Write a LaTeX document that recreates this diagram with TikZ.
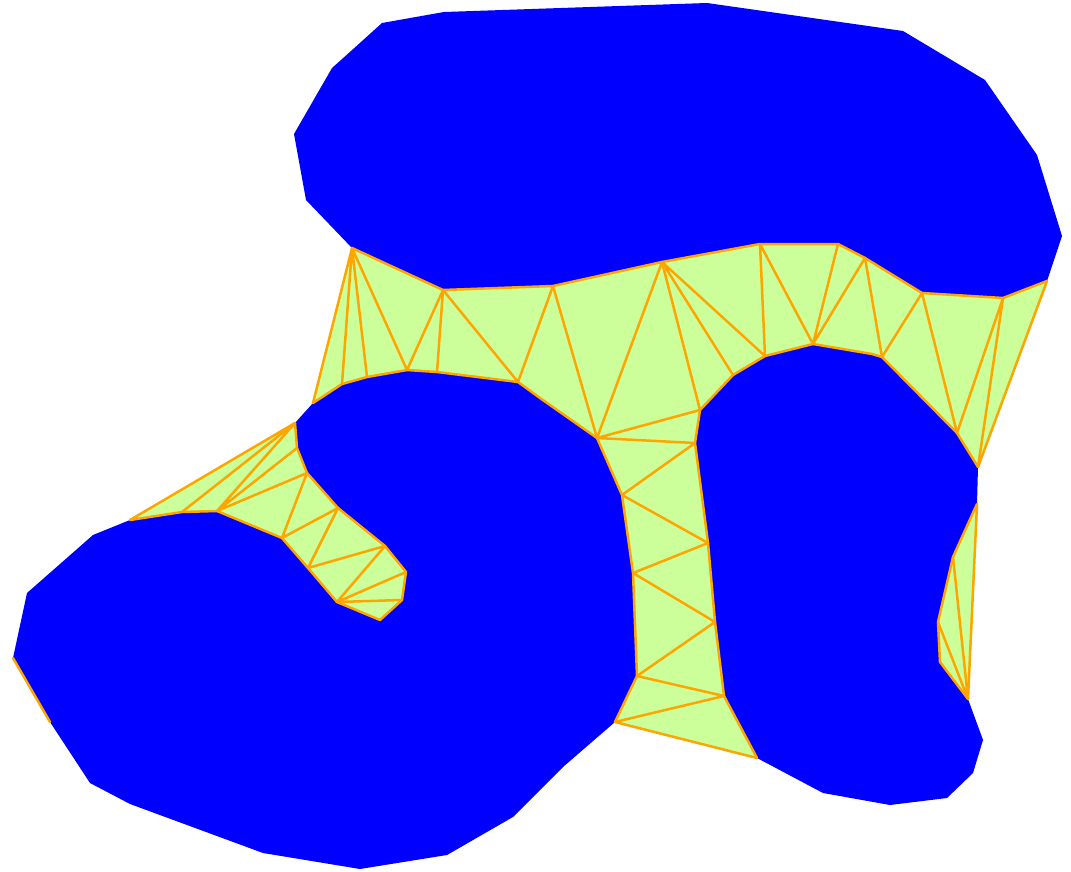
\documentclass[tikz,border=0pt]{standalone}
\begin{document}
\begin{tikzpicture}[x=1pt,y=-1pt,
  obst/.style={fill={rgb,255:red,0;green,0;blue,255}},
  free/.style={fill={rgb,255:red,204;green,255;blue,153}},
  edge/.style={draw={rgb,255:red,255;green,165;blue,0},line width=2.5pt,line join=round,line cap=round}]
\useasboundingbox (0,0) rectangle (1071,872);
% vertices of the band
\coordinate (P1) at (352,248); \coordinate (P2) at (443,290); \coordinate (P3) at (553,286);
\coordinate (T4) at (662,262); \coordinate (T5) at (760,244); \coordinate (T6) at (838,244);
\coordinate (T7) at (865,258); \coordinate (T8) at (922,293); \coordinate (T9) at (1003,298);
\coordinate (T10) at (1047,281);
\coordinate (B1) at (313,403); \coordinate (B2) at (342,384); \coordinate (B3) at (367,377);
\coordinate (B4) at (407,370); \coordinate (B5) at (437,372); \coordinate (B6) at (518,382);
\coordinate (B7) at (540,398); \coordinate (M1) at (597,438); \coordinate (M2) at (695,443);
\coordinate (R1) at (700,410); \coordinate (R2) at (733,375); \coordinate (R3) at (765,356);
\coordinate (R4) at (813,344); \coordinate (R4b) at (872,354); \coordinate (R5) at (882,357);
\coordinate (R6) at (957,433); \coordinate (R7) at (978,467);
\coordinate (L1) at (622,495); \coordinate (L2) at (633,573); \coordinate (L3) at (637,676);
\coordinate (L4) at (615,722);
\coordinate (Q1r) at (708,543); \coordinate (Q2r) at (715,622); \coordinate (Q3r) at (724,696);
\coordinate (Q4r) at (757,758);
% sliver
\coordinate (S1) at (977,504); \coordinate (S2) at (953,557); \coordinate (S3) at (938,622);
\coordinate (S4) at (940,662); \coordinate (S5) at (968,699);
% hook
\coordinate (H0) at (130,520); \coordinate (H1) at (182,512); \coordinate (H2) at (217,511);
\coordinate (H3) at (282,538); \coordinate (H4) at (308,568); \coordinate (H5) at (337,602);
\coordinate (H6) at (380,620);
\coordinate (Ht) at (295,423); \coordinate (Q1) at (297,448); \coordinate (Q2) at (307,473);
\coordinate (Q3) at (338,508); \coordinate (Q4) at (385,546); \coordinate (Q5) at (406,572);
\coordinate (Q6) at (402,600);
% blue obstacles
\path[obst] (294,134) -- (332,68) -- (351,51) -- (382,23) -- (444,12) -- (707,3) -- (903,31)
  -- (985,80) -- (1037,155) -- (1062,236) -- (T10) -- (T9) -- (T8) -- (T7) -- (T6) -- (T5)
  -- (T4) -- (P3) -- (P2) -- (P1) -- (306,200) -- cycle;
\path[obst] (M2) -- (R1) -- (R2) -- (R3) -- (R4) -- (R4b) -- (R5) -- (R6) -- (R7) -- (S1)
  -- (S2) -- (S3) -- (S4) -- (S5) -- (983,740) -- (973,773) -- (947,798) -- (890,805)
  -- (823,793) -- (Q4r) -- (Q3r) -- (Q2r) -- (Q1r) -- cycle;
\path[obst] (B1) -- (B2) -- (B3) -- (B4) -- (B5) -- (B6) -- (B7) -- (M1) -- (L1) -- (L2)
  -- (L3) -- (L4) -- (563,767) -- (513,817) -- (447,855) -- (360,869) -- (263,853)
  -- (130,804) -- (90,783) -- (50,722) -- (13,658) -- (27,593) -- (93,535) -- (H0) -- (H1)
  -- (H2) -- (H3) -- (H4) -- (H5) -- (H6) -- (Q6) -- (Q5) -- (Q4) -- (Q3) -- (Q2) -- (Q1)
  -- (Ht) -- cycle;
% free space
\path[free,edge] (P1) -- (P2) -- (P3) -- (T4) -- (T5) -- (T6) -- (T7) -- (T8) -- (T9) -- (T10)
  -- (R7) -- (R6) -- (R5) -- (R4b) -- (R4) -- (R3) -- (R2) -- (R1) -- (M2) -- (Q1r) -- (Q2r)
  -- (Q3r) -- (Q4r) -- (L4) -- (L3) -- (L2) -- (L1) -- (M1) -- (B7) -- (B6) -- (B5) -- (B4)
  -- (B3) -- (B2) -- (B1) -- cycle;
\path[free,edge] (S1) -- (S2) -- (S3) -- (S4) -- (S5) -- cycle;
\path[free,edge] (H0) -- (Ht) -- (Q1) -- (Q2) -- (Q3) -- (Q4) -- (Q5) -- (Q6) -- (H6) -- (H5)
  -- (H4) -- (H3) -- (H2) -- (H1) -- cycle;
% triangulation edges
\draw[edge] (P1) -- (B2) (P1) -- (B3) (P1) -- (B4) (P2) -- (B4) (P2) -- (B5) (P2) -- (B6)
  (P3) -- (B6) (P3) -- (M1) (T4) -- (M1) (T4) -- (R1) (T4) -- (R2) (T4) -- (R3)
  (M1) -- (R1) (M1) -- (M2) (T5) -- (R3) (T5) -- (R4) (T6) -- (R4) (T7) -- (R4) (T7) -- (R5)
  (T8) -- (R5) (T8) -- (R6) (T9) -- (R6) (T9) -- (R7);
\draw[edge] (M2) -- (L1) -- (Q1r) -- (L2) -- (Q2r) -- (L3) -- (Q3r) -- (L4);
\draw[edge] (S2) -- (S5) (S3) -- (S5);
\draw[edge] (H1) -- (Ht) (H2) -- (Ht) (H2) -- (Q1) (H2) -- (Q2) (Q2) -- (H3) (Q3) -- (H3)
  (Q3) -- (H4) (Q4) -- (H4) (Q4) -- (H5) (Q5) -- (H5) (Q6) -- (H5);
\draw[edge] (13,658) -- (50,722);
\end{tikzpicture}
\end{document}
